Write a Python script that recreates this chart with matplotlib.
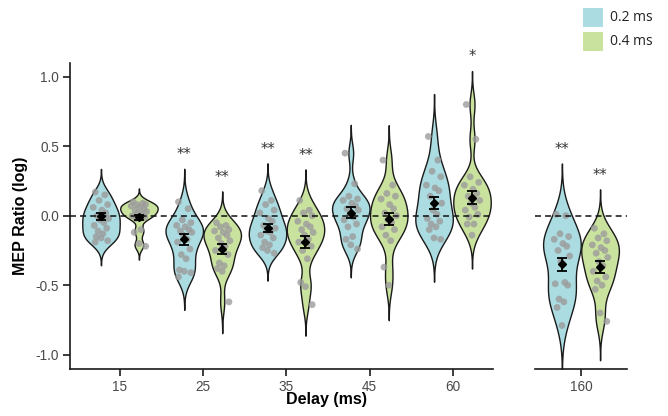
import numpy as np
import matplotlib
matplotlib.use("Agg")
import matplotlib.pyplot as plt
from matplotlib.patches import Rectangle

# ---------------- data ----------------
delays = ["15", "25", "35", "45", "60", "160"]
series = ["0.2 ms", "0.4 ms"]

b15 = [0.17, 0.15, 0.11, 0.08, 0.06, 0.04, 0.02, 0.0, -0.02, -0.03, -0.05, -0.07, -0.09, -0.11, -0.13, -0.15, -0.16, -0.18, -0.19]
g15 = [0.10, 0.09, 0.08, 0.08, 0.07, 0.06, 0.05, 0.04, 0.03, 0.02, 0.01, 0.0, -0.01, -0.02, -0.10, -0.12, -0.20, -0.22]
b25 = [0.10, 0.05, -0.03, -0.05, -0.07, -0.08, -0.10, -0.11, -0.12, -0.14, -0.17, -0.19, -0.24, -0.28, -0.31, -0.39, -0.40, -0.41, -0.44]
g25 = [-0.05, -0.07, -0.08, -0.10, -0.11, -0.12, -0.14, -0.16, -0.18, -0.20, -0.22, -0.25, -0.28, -0.34, -0.36, -0.38, -0.40, -0.62]
b35 = [0.18, 0.11, 0.08, 0.04, 0.02, -0.02, -0.04, -0.07, -0.09, -0.11, -0.12, -0.14, -0.16, -0.19, -0.21, -0.23, -0.25, -0.27]
g35 = [0.11, 0.04, 0.02, 0.0, -0.04, -0.06, -0.08, -0.10, -0.12, -0.14, -0.17, -0.19, -0.22, -0.25, -0.31, -0.48, -0.51, -0.64]
b45 = [0.45, 0.23, 0.14, 0.12, 0.11, 0.09, 0.07, 0.05, 0.04, 0.01, -0.01, -0.03, -0.06, -0.08, -0.15, -0.17, -0.21, -0.24]
g45 = [0.40, 0.22, 0.16, 0.14, 0.12, 0.08, 0.05, 0.02, 0.00, -0.03, -0.05, -0.08, -0.10, -0.14, -0.18, -0.37, -0.50]
b60 = [0.57, 0.40, 0.32, 0.28, 0.22, 0.20, 0.18, 0.14, 0.09, 0.04, 0.01, -0.02, -0.04, -0.06, -0.08, -0.10, -0.16, -0.17]
g60 = [0.80, 0.55, 0.28, 0.24, 0.22, 0.19, 0.16, 0.14, 0.11, 0.09, 0.06, 0.04, 0.01, -0.01, -0.06, -0.06, -0.14]
b160 = [0.01, 0.00, -0.13, -0.15, -0.17, -0.20, -0.22, -0.25, -0.29, -0.33, -0.48, -0.49, -0.50, -0.60, -0.62, -0.66, -0.79]
g160 = [-0.09, -0.13, -0.16, -0.18, -0.21, -0.23, -0.25, -0.27, -0.30, -0.33, -0.36, -0.40, -0.44, -0.47, -0.50, -0.53, -0.70, -0.76]

data_02 = [b15, b25, b35, b45, b60, b160]
data_04 = [g15, g25, g35, g45, g60, g160]
means_02 = [-0.005, -0.17, -0.09, 0.02, 0.09, -0.35]
means_04 = [-0.01, -0.24, -0.19, -0.025, 0.13, -0.37]
sem_02 = [0.025, 0.038, 0.028, 0.040, 0.043, 0.048]
sem_04 = [0.018, 0.034, 0.044, 0.042, 0.048, 0.042]
sig_02 = ["", "**", "**", "", "", "**"]
sig_04 = ["", "**", "**", "", "*", "**"]

# ---------------- style ----------------
C_BLUE = "#aadce1"
C_GREEN = "#c9e29d"
C_PT = "#9c9c9c"
TICK_C = "#4a4a4a"
jitter = [-0.06, 0.04, -0.02, 0.07, -0.08, 0.01, 0.05, -0.04, 0.08, -0.01,
          0.03, -0.07, 0.06, -0.03, 0.02, -0.05, 0.0, 0.07, -0.06, 0.04]
JSCALE = 1.15
OFF = 0.228
HALF = 0.225

W, H = 668, 416
fig = plt.figure(figsize=(W / 100, H / 100), dpi=100)
ax_bot = (H - 368.6) / H
ax_h = (368.6 - 62.8) / H
axL = fig.add_axes([70 / W, ax_bot, 423 / W, ax_h])
axR = fig.add_axes([535 / W, ax_bot, 92 / W, ax_h])

for ax in (axL, axR):
    ax.set_ylim(-1.1, 1.1)
    ax.spines["top"].set_visible(False)
    ax.spines["right"].set_visible(False)
    for s in ("left", "bottom"):
        ax.spines[s].set_linewidth(1.2)
        ax.spines[s].set_color("#1a1a1a")
    ax.tick_params(axis="both", direction="out", length=5, width=1.2,
                   color="#1a1a1a", labelcolor=TICK_C, labelsize=9.8, pad=3)
    ax.axhline(0, color="#111111", lw=1.1, ls=(0, (3.9, 2.7)), zorder=4)

axL.set_xlim(-0.6, 4.48)
axR.set_xlim(-0.55, 0.55)
axR.spines["left"].set_visible(False)
axR.tick_params(axis="y", left=False, labelleft=False)

axL.set_yticks([-1.0, -0.5, 0.0, 0.5, 1.0])
axL.set_yticklabels(["-1.0", "-0.5", "0.0", "0.5", "1.0"], family="Liberation Sans")
axL.set_xticks(range(5))
axL.set_xticklabels(delays[:5], family="Liberation Sans")
axR.set_xticks([0])
axR.set_xticklabels(delays[5:], family="Liberation Sans")


def violin(ax, pos, vals, color):
    v = np.asarray(vals, dtype=float)
    q75, q25 = np.percentile(v, [75, 25])
    bw = 0.9 * min(v.std(ddof=1), (q75 - q25) / 1.34) * len(v) ** (-0.2)
    grid = np.linspace(v.min() - 3 * bw, v.max() + 3 * bw, 512)
    dens = np.exp(-0.5 * ((grid[:, None] - v[None, :]) / bw) ** 2).sum(1)
    half = dens / dens.max() * HALF
    ax.fill_betweenx(grid, pos - half, pos + half, facecolor=color,
                     edgecolor="#1a1a1a", lw=1.0, zorder=2)
    return grid.max()


for i, d in enumerate(delays):
    ax = axL if i < 5 else axR
    x0 = i if i < 5 else 0
    for vals, m, s, sig, col, sgn in (
        (data_02[i], means_02[i], sem_02[i], sig_02[i], C_BLUE, -1),
        (data_04[i], means_04[i], sem_04[i], sig_04[i], C_GREEN, 1),
    ):
        pos = x0 + sgn * OFF
        top = violin(ax, pos, vals, col)
        n = len(vals)
        ax.scatter(pos + JSCALE * np.array(jitter[:n]), vals, s=24, color=C_PT,
                   alpha=0.8, edgecolors="none", zorder=3)
        ax.errorbar(pos, m, yerr=s, fmt="D", ms=4.5, color="black",
                    ecolor="black", elinewidth=1.3, capsize=3.5,
                    capthick=1.3, zorder=5)
        if sig:
            ax.text(pos, top + 0.07, sig, ha="center", va="baseline",
                    fontsize=10.5, color="#333333", clip_on=False, zorder=6)

# axis labels
fig.text(21 / W, 1 - 216 / H, "MEP Ratio (log)", rotation=90, ha="center",
         va="center", fontsize=11.5, fontweight="bold", family="Liberation Sans")
fig.text(327 / W, 1 - 399.5 / H, "Delay (ms)", ha="center", va="center",
         fontsize=11.5, fontweight="bold", family="Liberation Sans")

# legend
for k, (lab, col) in enumerate(zip(series, [C_BLUE, C_GREEN])):
    y_top = 8 + k * 24
    fig.add_artist(Rectangle((583 / W, 1 - (y_top + 19) / H), 20 / W, 19 / H,
                             transform=fig.transFigure, facecolor=col,
                             edgecolor="none"))
    fig.text(610 / W, 1 - (y_top + 9.5) / H, lab, ha="left", va="center",
             fontsize=10, family="Open Sans", color="#222222")

fig.savefig("out.png", dpi=100)
